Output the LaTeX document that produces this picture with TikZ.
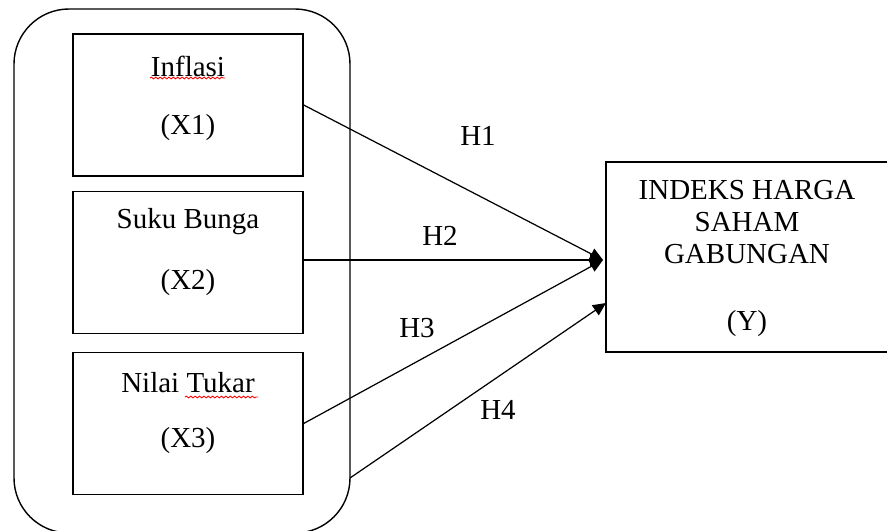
\documentclass[tikz,border=0pt]{standalone}
\usepackage{fontspec}
\setmainfont{Liberation Serif}
\usetikzlibrary{arrows.meta,decorations.pathmorphing}

\begin{document}
\begin{tikzpicture}[>={Triangle[length=2.6mm,width=2.4mm]}, x=0.02cm, y=-0.02cm,
    every node/.style={font=\fontsize{16.5}{19}\selectfont},
    varbox/.style={draw, line width=0.8pt, rectangle, minimum width=4.6cm, minimum height=2.84cm},
    link/.style={->, line width=0.7pt},
    squiggle/.style={red, line width=0.5pt, decorate, decoration={snake, amplitude=0.5pt, segment length=2.5pt}}]

    \useasboundingbox (0,0) rectangle (887,531);
    \clip (0,0) rectangle (887,531);

    % Outer group
    \draw[line width=0.8pt, rounded corners=1.1cm] (14,9) rectangle (350,533);
    \coordinate (gout) at (350,478);

    % Independent variables
    \node[varbox] at (188,105) (x1) {};
    \node at (188,66) (x1name) {Inflasi};
    \node at (188,128) (x1code) {(X1)};
    \draw[squiggle] (150,78) -- (225,78);

    \node[varbox] at (188,262.5) (x2) {};
    \node at (188,222) (x2name) {Suku Bunga};
    \node at (188,283) (x2code) {(X2)};

    \node[varbox] at (188,423.5) (x3) {};
    \node at (188,383) (x3name) {Nilai Tukar};
    \node at (188,441) (x3code) {(X3)};
    \draw[squiggle] (185,397) -- (258,397);

    % Dependent variable
    \node[draw, line width=0.8pt, rectangle, minimum width=5.78cm, minimum height=3.8cm] at (750.5,257) (ihsg) {};
    \node at (747,190) (yname1) {INDEKS HARGA};
    \node at (747,222) (yname2) {SAHAM};
    \node at (747,254) (yname3) {GABUNGAN};
    \node at (747,324) (ycode) {(Y)};

    % Arrow targets
    \coordinate (tip) at (603,260);
    \coordinate (tip4) at (606,303);

    % Hypotheses
    \draw[link] (x1.east) -- (tip);
    \draw[link] (x2.east |- tip) -- (tip);
    \draw[link] (x3.east) -- (tip);
    \draw[link] (gout) -- (tip4);

    \node at (478,136) (h1) {H1};
    \node at (440,236) (h2) {H2};
    \node at (417,328) (h3) {H3};
    \node at (498,410) (h4) {H4};
\end{tikzpicture}
\end{document}
